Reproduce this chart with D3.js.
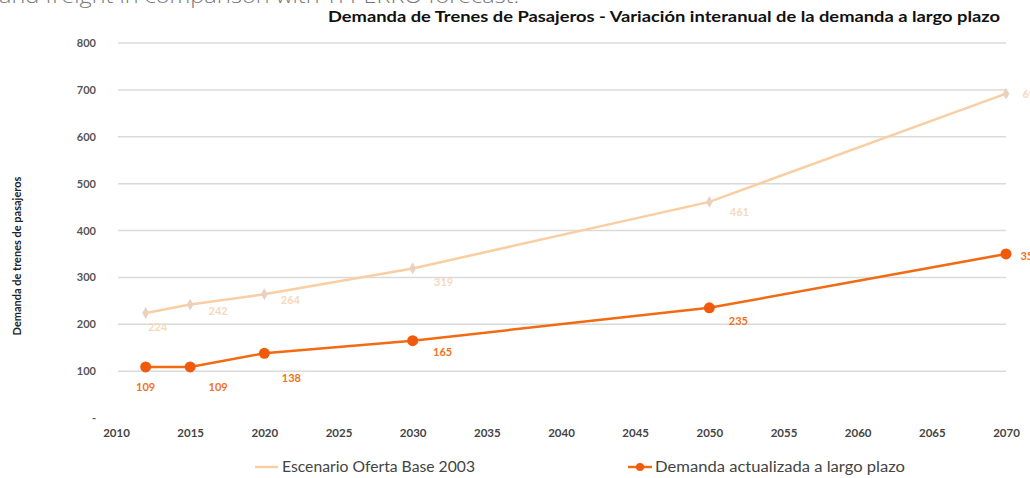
<!DOCTYPE html>
<html><head><meta charset="utf-8">
<script src="https://cdn.jsdelivr.net/npm/d3@7"></script>
<style>body{margin:0;background:#fff}svg{display:block}</style>
</head><body>
<svg id="c" width="1030" height="478"></svg>
<script>
const years = [2012, 2015, 2020, 2030, 2050, 2070];
const baseScenario = [224, 242, 264, 319, 461, 692];
const updatedDemand = [109, 109, 138, 165, 235, 350];
const xTicks = [2010,2015,2020,2025,2030,2035,2040,2045,2050,2055,2060,2065,2070];
const yTicks = [0,100,200,300,400,500,600,700,800];
const seriesNames = ["Escenario Oferta Base 2003", "Demanda actualizada a largo plazo"];
const titleText = "Demanda de Trenes de Pasajeros  - Variación interanual de la demanda a largo plazo";
const yTitle = "Demanda de trenes de pasajeros";
const pageText = "and freight in comparison with TI PERRO forecast.";

// label offsets (style only)
const lightOff = [[12,18],[28,10],[26,10],[31,18],[30,14],[26,4]];
const orangeOff = [[0,24],[28,24],[27,29],[30,15],[29,17],[24,6]];

const svg = d3.select("#c");
const x = d3.scaleLinear().domain([2010,2070]).range([116,1006]);
const y = d3.scaleLinear().domain([0,800]).range([418,43]);

svg.append("text").attr("x",-1).attr("y",3).attr("font-family","Open Sans").attr("font-weight",300)
  .attr("font-size",21).attr("fill","#777").attr("textLength",520).attr("lengthAdjust","spacingAndGlyphs").text(pageText);

svg.append("text").attr("x",328).attr("y",22)
  .attr("font-family","Lato").attr("font-weight","bold").attr("font-size",15).attr("fill","#111")
  .attr("textLength",672).attr("lengthAdjust","spacingAndGlyphs").text(titleText);

// grid
svg.append("g").selectAll("line").data(yTicks.filter(d=>d>0)).join("line")
  .attr("x1",118).attr("x2",1006).attr("y1",d=>y(d)).attr("y2",d=>y(d))
  .attr("stroke","#dadada").attr("stroke-width",1.5);

// y axis labels
const ya = svg.append("g").attr("transform","translate(96,0)")
  .call(d3.axisLeft(y).tickValues(yTicks).tickSize(0).tickPadding(0).tickFormat(d=>d===0?"-":d));
ya.select(".domain").remove();
ya.selectAll("text").attr("font-family","Lato").attr("font-weight","bold").attr("font-size",11).attr("fill","#555");

// x axis labels
const xa = svg.append("g").attr("transform","translate(0,429)")
  .call(d3.axisBottom(x).tickValues(xTicks).tickSize(0).tickPadding(0).tickFormat(d3.format("d")));
xa.select(".domain").remove();
xa.selectAll("text").attr("font-family","Lato").attr("font-weight","bold").attr("font-size",11.5).attr("fill","#444");

svg.append("text").attr("transform","translate(21,256) rotate(-90)").attr("text-anchor","middle")
  .attr("font-family","Lato").attr("font-weight","bold").attr("font-size",11).attr("fill","#222").text(yTitle);

const lightCol = "#f9cea2", orangeCol = "#f26a12";
const line = d3.line().x(d=>x(d[0])).y(d=>y(d[1]));
const lightData = years.map((yr,i)=>[yr,baseScenario[i]]);
const orangeData = years.map((yr,i)=>[yr,updatedDemand[i]]);

svg.append("path").datum(lightData).attr("d",line).attr("fill","none").attr("stroke",lightCol).attr("stroke-width",2.5);
svg.append("g").selectAll("path").data(lightData).join("path")
  .attr("d",d3.symbol(d3.symbolDiamond,40))
  .attr("transform",d=>`translate(${x(d[0])},${y(d[1])})`).attr("fill","#e8d2bf");
svg.append("g").selectAll("text").data(lightData).join("text")
  .attr("x",(d,i)=>x(d[0])+lightOff[i][0]).attr("y",(d,i)=>y(d[1])+lightOff[i][1])
  .attr("text-anchor","middle").attr("font-family","Lato").attr("font-weight","bold").attr("font-size",11)
  .attr("fill","#f7d8bc").text(d=>d[1]);

svg.append("path").datum(orangeData).attr("d",line).attr("fill","none").attr("stroke",orangeCol).attr("stroke-width",2.5);
svg.append("g").selectAll("circle").data(orangeData).join("circle")
  .attr("cx",d=>x(d[0])).attr("cy",d=>y(d[1])).attr("r",5.5).attr("fill","#f05a0c");
svg.append("g").selectAll("text").data(orangeData).join("text")
  .attr("x",(d,i)=>x(d[0])+orangeOff[i][0]).attr("y",(d,i)=>y(d[1])+orangeOff[i][1])
  .attr("text-anchor","middle").attr("font-family","Lato").attr("font-weight","bold").attr("font-size",11)
  .attr("fill","#f0721c").text(d=>d[1]);

// legend
const lg = svg.append("g");
lg.append("line").attr("x1",255).attr("x2",278).attr("y1",467).attr("y2",467).attr("stroke",lightCol).attr("stroke-width",2.5);
lg.append("text").attr("x",282).attr("y",472).attr("font-family","Lato").attr("font-size",14.5).attr("fill","#444")
  .attr("textLength",193).attr("lengthAdjust","spacingAndGlyphs").text(seriesNames[0]);
lg.append("line").attr("x1",628).attr("x2",652).attr("y1",467).attr("y2",467).attr("stroke",orangeCol).attr("stroke-width",2.5);
lg.append("circle").attr("cx",640).attr("cy",467).attr("r",4).attr("fill","#f05a0c");
lg.append("text").attr("x",655).attr("y",472).attr("font-family","Lato").attr("font-size",14.5).attr("fill","#444")
  .attr("textLength",250).attr("lengthAdjust","spacingAndGlyphs").text(seriesNames[1]);
</script>
</body></html>
